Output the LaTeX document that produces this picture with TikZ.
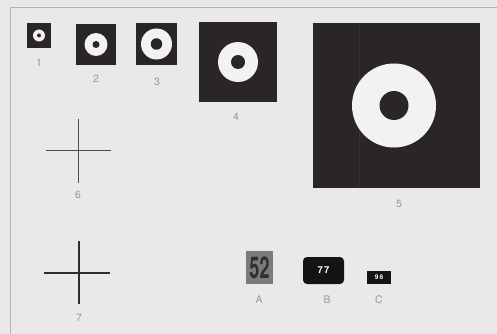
\documentclass[tikz,border=0pt]{standalone}
\usepackage{fontspec}
\setmainfont{TeX Gyre Heros}
\definecolor{bg}{HTML}{EAE9EA}
\definecolor{dark}{HTML}{2A2628}
\definecolor{ring}{HTML}{F3F2F3}
\definecolor{lab}{HTML}{9A999A}
\definecolor{frame}{HTML}{B4B3B4}
\definecolor{seam}{HTML}{363234}
\definecolor{graybox}{HTML}{7C7A7B}
\definecolor{graytext}{HTML}{302E2F}
\begin{document}
\begin{tikzpicture}[x=1pt,y=-1pt,
  sq/.style={fill=dark,draw=none,inner sep=0pt,outer sep=0pt},
  ringc/.style={circle,fill=ring,draw=none,inner sep=0pt,minimum size=#1},
  dotc/.style={circle,fill=dark,draw=none,inner sep=0pt,minimum size=#1},
  lbl/.style={text=lab,font=\fontsize{10.5}{10.5}\selectfont,inner sep=0pt},
  thinx/.style={draw=black!70,line width=0.8pt},
  thickx/.style={draw=black!82,line width=2.8pt}]
\useasboundingbox (0,0) rectangle (497,334);
\fill[bg] (0,0) rectangle (497,334);
\draw[frame,line width=0.7pt] (10,334) -- (10,7) -- (497,7);
% squares
\node[sq,minimum width=24pt,minimum height=25pt] (s1) at (39,35.5) {};
\node[ringc=12pt] (r1) at (s1.center) {};
\node[dotc=4pt] (d1) at (s1.center) {};
\node[lbl] (l1) at (39,63) {1};
\node[sq,minimum width=40pt,minimum height=41pt] (s2) at (96,44.5) {};
\node[ringc=23pt] (r2) at (s2.center) {};
\node[dotc=7pt] (d2) at (s2.center) {};
\node[lbl] (l2) at (96,78.5) {2};
\node[sq,minimum width=41pt,minimum height=42pt] (s3) at (156.5,44) {};
\node[ringc=31pt] (r3) at (s3.center) {};
\node[dotc=11.5pt] (d3) at (s3.center) {};
\node[lbl] (l3) at (157,82) {3};
\node[sq,minimum width=78pt,minimum height=80pt] (s4) at (238,62) {};
\node[ringc=40pt] (r4) at (s4.center) {};
\node[dotc=14pt] (d4) at (s4.center) {};
\node[lbl] (l4) at (236,117) {4};
\node[sq,minimum width=167pt,minimum height=165pt] (s5) at (396.5,105.5) {};
\draw[seam,line width=0.8pt] (359,24) -- (359,187);
\node[ringc=84pt] (r5) at (394,105.5) {};
\node[dotc=29pt] (d5) at (r5.center) {};
\node[lbl] (l5) at (399,203.5) {5};
% cross 6
\coordinate (c6t) at (78,119);
\coordinate (c6b) at (78,183);
\coordinate (c6l) at (46,150);
\coordinate (c6r) at (111,150);
\draw[thinx] (c6t) -- (c6b);
\draw[thinx] (c6l) -- (c6r);
\node[lbl] (l6) at (78,194.5) {6};
% cross 7
\coordinate (c7t) at (79,241);
\coordinate (c7b) at (79,304);
\coordinate (c7l) at (44,273);
\coordinate (c7r) at (110,273);
\draw[thickx] (c7t) -- (c7b);
\draw[thickx] (c7l) -- (c7r);
\node[lbl] (l7) at (79,318) {7};
% A B C
\node[fill=graybox,inner sep=0pt,minimum width=27pt,minimum height=33pt] (a) at (259.5,267.5) {};
\node[text=graytext,inner sep=0pt,xscale=0.6,font=\bfseries\fontsize{30}{30}\selectfont] (at) at (a.center) {52};
\node[lbl] (la) at (259,300) {A};
\node[fill=black!92,rounded corners=4pt,inner sep=0pt,minimum width=41pt,minimum height=27pt,
  text=white,font=\bfseries\fontsize{9.5}{9.5}\selectfont] (b) at (323.5,270.5) {7\kern1pt7};
\node[lbl] (lb) at (327,300) {B};
\node[fill=black!92,inner sep=0pt,minimum width=24pt,minimum height=13pt,
  text=white,font=\bfseries\fontsize{6.5}{6.5}\selectfont] (c) at (379,277.5) {9\kern1.2pt8};
\node[lbl] (lc) at (379,300) {C};
\end{tikzpicture}
\end{document}
